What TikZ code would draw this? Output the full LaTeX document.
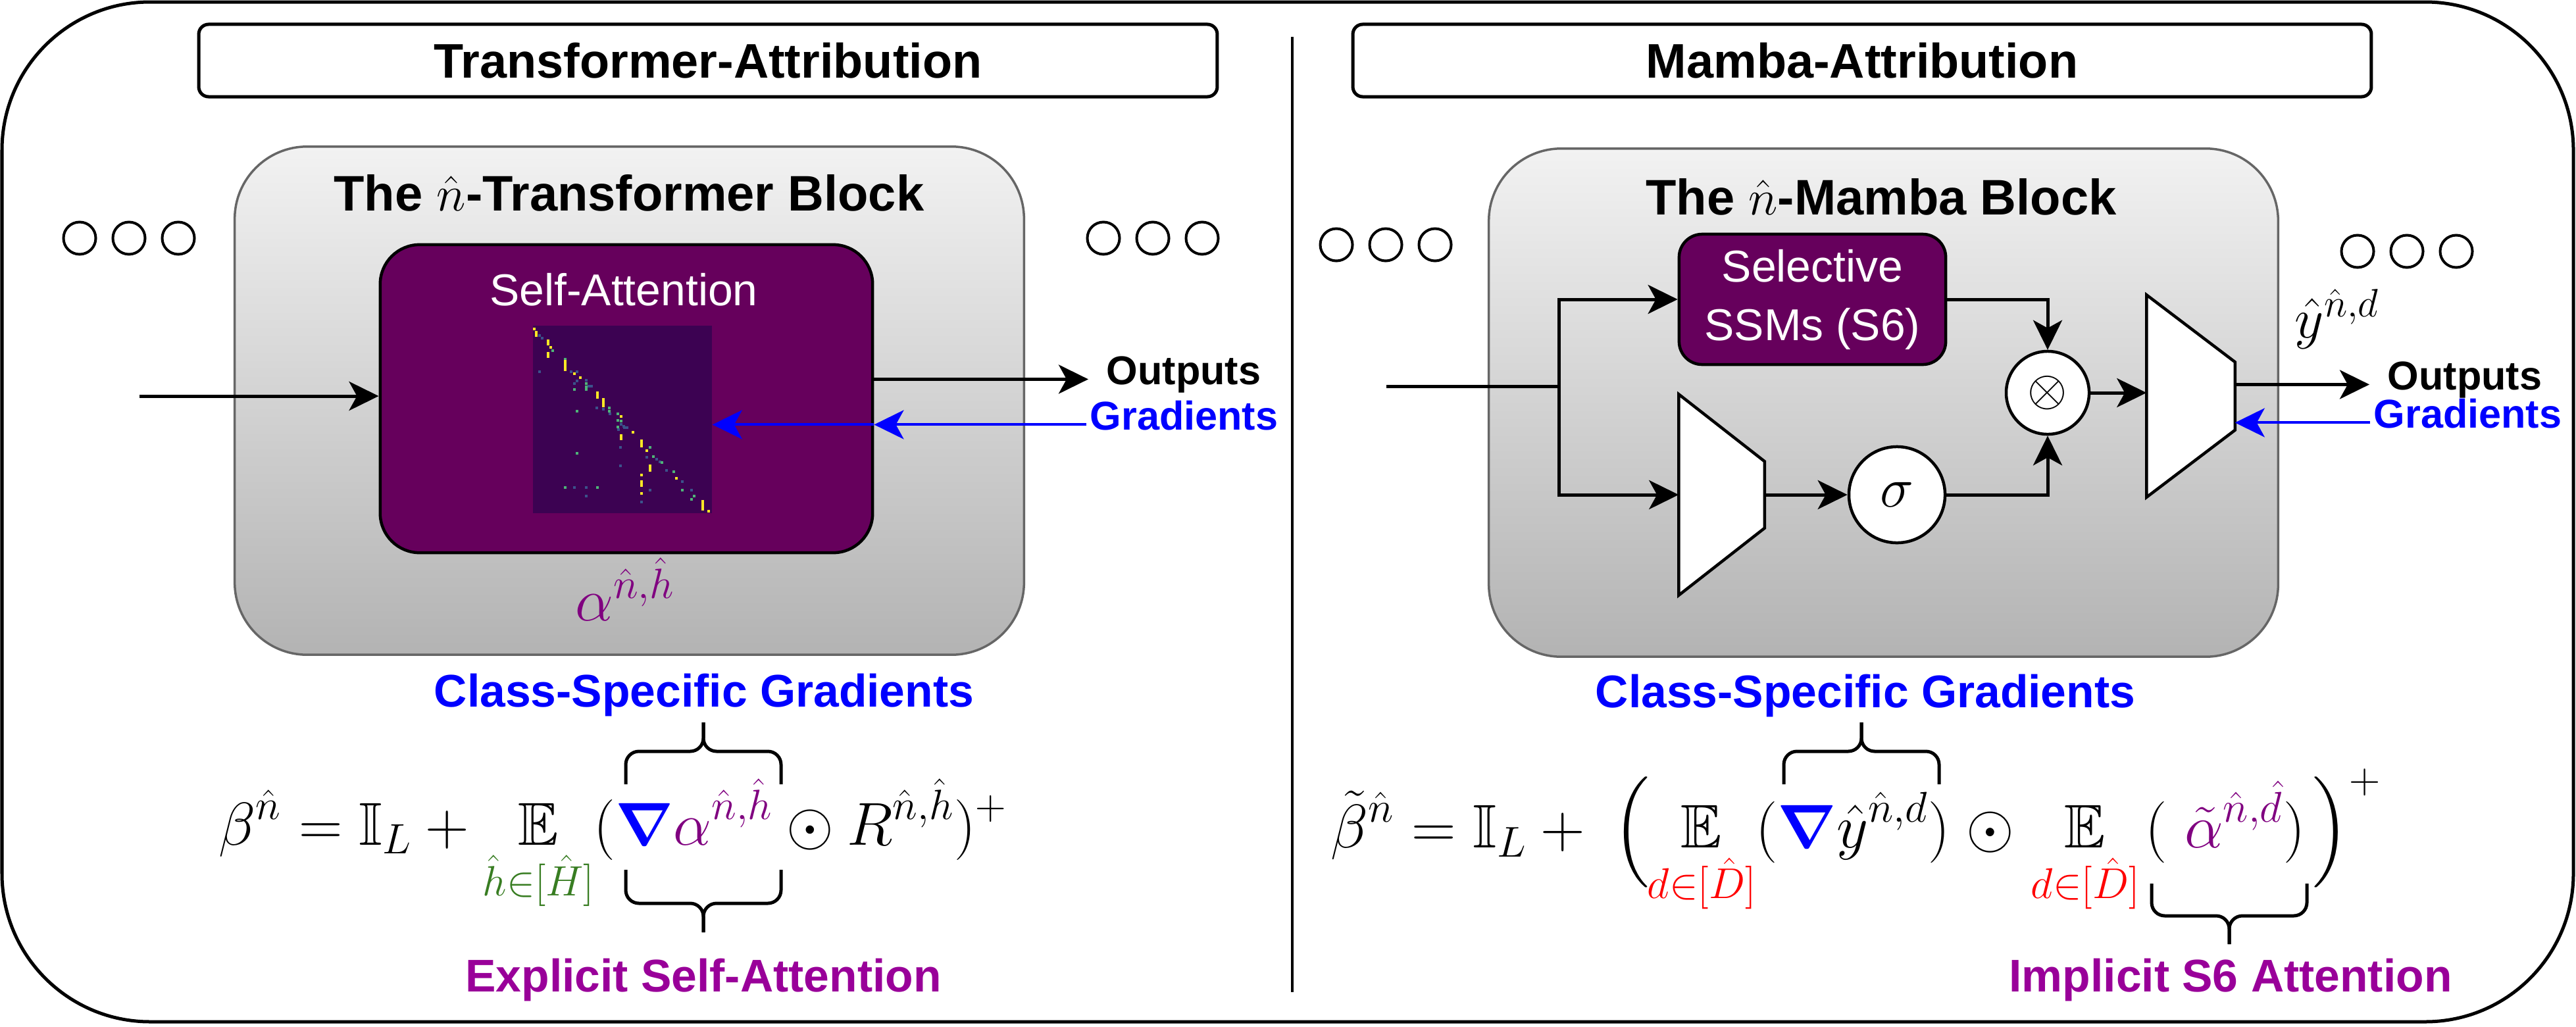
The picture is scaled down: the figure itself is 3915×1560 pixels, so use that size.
\RequirePackage{fix-cm}
\documentclass[tikz,border=0pt]{standalone}
\usepackage{amsmath,amssymb}
\usepackage[no-math]{fontspec}
\newfontfamily\arial{Liberation Sans}
\usetikzlibrary{arrows.meta}

\definecolor{sapurple}{RGB}{102,0,92}
\definecolor{hmbg}{RGB}{60,2,82}
\definecolor{hmyellow}{RGB}{253,231,37}
\definecolor{hmgreen}{RGB}{78,180,120}
\definecolor{hmblue}{RGB}{59,82,139}
\definecolor{labpurple}{RGB}{153,0,153}
\definecolor{eqpurple}{RGB}{128,0,128}
\definecolor{eqgreen}{RGB}{56,125,34}
\definecolor{blockgray}{RGB}{102,102,102}
\definecolor{blocktop}{RGB}{242,242,242}
\definecolor{blockbot}{RGB}{179,179,179}

\newcommand\titlefont{\arial\bfseries\fontsize{21}{25}\selectfont}
\newcommand\blockfont{\arial\bfseries\fontsize{21.6}{25}\selectfont}
\newcommand\boxfont{\arial\fontsize{19.3}{25.3}\selectfont}
\newcommand\lblfont{\arial\bfseries\fontsize{17.4}{21}\selectfont}
\newcommand\notefont{\arial\bfseries\fontsize{19.8}{24}\selectfont}
\newcommand\eqfont{\fontsize{26.2}{31}\selectfont}
\newcommand\eqbigfont{\fontsize{26.6}{31}\selectfont}
\newcommand\symfont{\fontsize{24.5}{29}\selectfont}
\newcommand\otfont{\fontsize{22}{26}\selectfont}

\tikzset{%
  titlebox/.style={rectangle, rounded corners=0.15cm, draw=black, line width=0.05cm,
    minimum width=15.47cm, minimum height=1.1cm, font=\titlefont},
  block/.style={rectangle, rounded corners=1.1cm, draw=blockgray, line width=0.035cm,
    top color=blocktop, bottom color=blockbot, minimum width=11.99cm, minimum height=7.72cm},
  purplebox/.style={rectangle, draw=black, line width=0.045cm, fill=sapurple, text=white},
  ring/.style={circle, draw=black, line width=0.04cm, minimum size=0.49cm, inner sep=0pt},
  arr/.style={-{Stealth[length=0.45cm,width=0.44cm,inset=0.12cm]}, line width=0.05cm},
  gradarr/.style={arr, draw=blue, fill=blue, line width=0.04cm},
  opcircle/.style={circle, draw=black, line width=0.045cm, fill=white, inner sep=0pt},
  trapbox/.style={rectangle, inner sep=0pt},
  trap/.style={draw=black, line width=0.045cm, fill=white},
  curly/.style={line width=0.05cm, rounded corners=0.2cm},
  lbl/.style={inner sep=0.05cm, font=\lblfont},
  eqpart/.style={font=\eqbigfont, anchor=base, inner sep=0pt},
}

% brace: left x, right x, arm end y, middle y, tip y
\newcommand\drawbrace[5]{%
    \pgfmathsetmacro\bmid{(#1+#2)/2}
    \draw[curly] (#1,#3) |- (\bmid,#4) -- (\bmid,#5);
    \draw[curly] (#2,#3) |- (\bmid,#4) -- (\bmid,#5);
}

\begin{document}
\begin{tikzpicture}[x=0.01cm,y=-0.01cm]
  \useasboundingbox (0,0) rectangle (3915,1560);
  % frame and divider
  \draw[line width=0.05cm, rounded corners=2.25cm] (3,3) rectangle (3911,1553);
  \draw[line width=0.04cm] (1964,56) -- (1964,1508);
  % titles
  \node[titlebox] (ttl) at (1076,92) {Transformer-Attribution};
  \node[titlebox] (mttl) at (2830,92) {Mamba-Attribution};
  % blocks
  \node[block] (tblk) at (956.5,609) {};
  \node[font=\blockfont, anchor=base] (tblkttl) at (956,320) {The $\hat{n}$-Transformer Block};
  \node[block] (mblk) at (2862.5,612) {};
  \node[font=\blockfont, anchor=base] (mblkttl) at (2859,326) {The $\hat{n}$-Mamba Block};
  % the three circles
  \foreach \cx/\cy/\grp in {121/362/a, 1677/362/b, 2031/372/c, 3583/382/d}{
      \foreach \k in {0,1,2}{
          \node[ring] (ring\grp\k) at (\cx+\k*75,\cy) {};
      }
  }

  % self-attention with its map
  \node[purplebox, rounded corners=0.6cm, minimum width=7.48cm, minimum height=4.68cm] (sa) at (952,606) {};
  \node[font=\boxfont, text=white, anchor=base] (satxt) at (948,464) {Self-Attention};
  \node[fill=hmbg, minimum width=2.72cm, minimum height=2.85cm, inner sep=0pt] (hm) at (946,637.5) {};
  \foreach \hx/\hy in {820/510, 824/514, 868/565, 877/565, 873/583, 877/579, 895/587, 899/587,
      891/578, 917/622, 907/620, 927/629, 948/648, 953/650, 940/653, 983/695, 998/698, 1003/702,
      1013/715, 1037/732, 1037/745, 1051/745, 988/745, 975/763, 891/754, 873/741, 891/741,
      820/565, 943/680, 943/708, 944/645, 949/650}{
      \fill[hmblue] (\hx-2.2,\hy-2.2) rectangle (\hx+2.2,\hy+2.2);
  }
  \foreach \hx/\hy in {840/533, 859/546, 939/629, 944/640, 939/639, 926/620, 877/625, 877/689,
      988/680, 993/694, 1006/703, 1024/717, 1051/759, 1055/754, 1037/745, 859/741, 908/741,
      891/583, 891/588, 891/592, 873/592, 939/649, 926/625}{
      \fill[hmgreen] (\hx-2.2,\hy-2.2) rectangle (\hx+2.2,\hy+2.2);
  }
  \foreach \hx/\hy/\hl in {812/500/0, 815/505/5, 833/518/5, 837/528/0, 833/537/5, 859/549/13,
      873/568/0, 882/574/0, 908/597/7, 917/607/10, 944/633/0, 944/662/5, 962/657/0, 975/670/8,
      983/685/0, 988/708/7, 975/722/0, 975/732/6, 975/750/0, 1028/727/0, 1068/762/12, 1077/777/0}{
      \fill[hmyellow] (\hx-2.2,\hy-2.2) rectangle (\hx+2.2,\hy+\hl+2.2);
  }
  \node[font=\eqfont, text=eqpurple, anchor=base] (alph) at (950,943) {$\alpha^{\hat{n},\hat{h}}$};

  % transformer in and out
  \coordinate (tin) at (212,602);
  \draw[arr] (tin) -- (tin -| sa.west);
  \node[lbl, anchor=base west] (toutlbl) at (1676,584) {Outputs};
  \draw[arr, shorten >=0.22cm] (toutlbl.mid west -| sa.east) -- (toutlbl.mid west);
  \node[lbl, text=blue, anchor=base west] (tgradlbl) at (1651,653) {Gradients};
  \draw[gradarr] (tgradlbl.mid west) -- (tgradlbl.mid west -| sa.east);
  \draw[gradarr] (tgradlbl.mid west -| sa.east) -- (tgradlbl.mid west -| hm.east);

  % mamba block parts
  \node[purplebox, rounded corners=0.35cm, minimum width=4.05cm, minimum height=1.98cm,
    font=\boxfont, align=center] (ssm) at (2754.5,455) {Selective\\SSMs (S6)};
  \node[trapbox, minimum width=1.29cm, minimum height=3.04cm] (upproj) at (2616.5,752) {};
  \draw[trap] (upproj.north west) -- ([yshift=-1.02cm]upproj.north east)
    -- ([yshift=1.02cm]upproj.south east) -- (upproj.south west) -- cycle;
  \node[opcircle, minimum size=1.46cm, font=\symfont] (sig) at (2883,752) {$\sigma$};
  \node[opcircle, minimum size=1.26cm, font=\otfont] (mul) at (3112,597) {$\otimes$};
  \node[trapbox, minimum width=1.33cm, minimum height=3.06cm] (outproj) at (3329.5,602) {};
  \draw[trap] (outproj.north west) -- ([yshift=-1.02cm]outproj.north east)
    -- ([yshift=1.02cm]outproj.south east) -- (outproj.south west) -- cycle;
  \node[font=\symfont, anchor=base] (yhat) at (3552,513) {$\hat{y}^{\hat{n},d}$};

  % mamba connectors
  \coordinate (min) at (2107,587);
  \coordinate (mfork) at (2369,587);
  \draw[line width=0.05cm] (min) -- (mfork);
  \draw[arr] (mfork) |- (ssm.west);
  \draw[arr] (mfork) |- (upproj.west);
  \draw[arr] (upproj.east) -- (sig.west);
  \draw[arr] (ssm.east) -| (mul.north);
  \draw[arr] (sig.east) -| (mul.south);
  \draw[arr] (mul.east) -- (mul.east -| outproj.west);
  \node[lbl, anchor=base west] (moutlbl) at (3623,592) {Outputs};
  \draw[arr, shorten >=0.22cm] (moutlbl.mid west -| outproj.east) -- (moutlbl.mid west);
  \node[lbl, text=blue, anchor=base west] (mgradlbl) at (3602,650) {Gradients};
  \draw[gradarr] (mgradlbl.mid west) -- (mgradlbl.mid west -| outproj.east);

  % transformer formula
  \node[font=\notefont, text=blue, anchor=base] (tcsg) at (1070,1074) {Class-Specific Gradients};
  \node[font=\eqfont, anchor=base] (teq) at (932,1284) {$\displaystyle
    \beta^{\hat{n}} = \mathbb{I}_L + \operatorname*{\mathbb{E}}_{\textcolor{eqgreen}{\hat{h}\in[\hat{H}]}}
    (\textcolor{blue}{\boldsymbol{\nabla}}\textcolor{eqpurple}{\alpha^{\hat{n},\hat{h}}}
    \odot R^{\hat{n},\hat{h}})^{+}$};
  \drawbrace{951}{1187}{1192}{1142}{1098}
  \drawbrace{951}{1187}{1322}{1373}{1417}
  \node[font=\notefont, text=labpurple, anchor=base] (tesa) at (1069,1507) {Explicit Self-Attention};

  % mamba formula, set piece by piece
  \node[font=\notefont, text=blue, anchor=base] (mcsg) at (2835,1075) {Class-Specific Gradients};
  \node[eqpart] (meqa) at (2226,1288) {$\displaystyle \tilde{\beta}^{\hat{n}} = \mathbb{I}_L + {}$};
  \node[eqpart] (meqb) at (2479,1288) {$\displaystyle \Big($};
  \node[eqpart] (meqc) at (2586,1288) {$\displaystyle \operatorname*{\mathbb{E}}_{\textcolor{red}{d\in[\hat{D}]}}$};
  \node[eqpart] (meqd) at (2816,1288) {$\displaystyle (\textcolor{blue}{\boldsymbol{\nabla}}\hat{y}^{\hat{n},d})$};
  \node[eqpart] (meqe) at (3025,1288) {$\displaystyle \odot$};
  \node[eqpart] (meqf) at (3169,1288) {$\displaystyle \operatorname*{\mathbb{E}}_{\textcolor{red}{d\in[\hat{D}]}}$};
  \node[eqpart] (meqg) at (3382,1288) {$\displaystyle (\;\textcolor{eqpurple}{\tilde{\alpha}^{\hat{n},\hat{d}}})$};
  \node[eqpart] (meqh) at (3567,1288) {$\displaystyle \Big)^{+}$};
  \drawbrace{2711}{2947}{1192}{1142}{1098}
  \drawbrace{3270}{3506}{1343}{1392}{1435}
  \node[font=\notefont, text=labpurple, anchor=base] (mis6) at (3390,1507) {Implicit S6 Attention};
\end{tikzpicture}
\end{document}
